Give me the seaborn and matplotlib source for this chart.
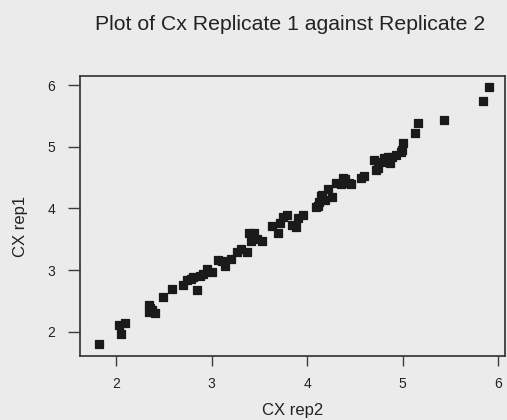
import matplotlib
matplotlib.use("Agg")
import matplotlib.pyplot as plt
import seaborn as sns
import pandas as pd

# Cx expression, replicate 2 (x) vs replicate 1 (y)
cx_rep2 = [1.82, 2.03, 2.09, 2.05, 2.34, 2.34, 2.38, 2.41, 2.36, 2.49,
           2.59, 2.70, 2.74, 2.78, 2.85, 2.81, 2.88, 2.91, 2.95, 3.00,
           3.07, 3.11, 3.14, 3.20, 3.27, 3.31, 3.37, 3.39, 3.44, 3.43,
           3.47, 3.53, 3.41, 3.63, 3.70, 3.72, 3.75, 3.79, 3.84, 3.88,
           3.90, 3.96, 4.09, 4.11, 4.12, 4.14, 4.16, 4.19, 4.22, 4.26,
           4.30, 4.35, 4.38, 4.40, 4.44, 4.46, 4.59, 4.56, 4.70, 4.72,
           4.74, 4.79, 4.80, 4.85, 4.87, 4.89, 4.93, 4.98, 4.99, 5.00,
           5.13, 5.16, 5.43, 5.84, 5.90]
cx_rep1 = [1.80, 2.12, 2.15, 1.97, 2.44, 2.32, 2.35, 2.31, 2.38, 2.56,
           2.69, 2.76, 2.84, 2.86, 2.68, 2.89, 2.90, 2.94, 3.02, 2.97,
           3.16, 3.15, 3.06, 3.18, 3.29, 3.34, 3.29, 3.61, 3.60, 3.52,
           3.50, 3.47, 3.47, 3.71, 3.61, 3.77, 3.86, 3.90, 3.74, 3.70,
           3.85, 3.89, 4.03, 4.04, 4.11, 4.20, 4.22, 4.14, 4.31, 4.19,
           4.42, 4.39, 4.50, 4.48, 4.42, 4.40, 4.52, 4.50, 4.79, 4.63,
           4.66, 4.76, 4.82, 4.84, 4.74, 4.84, 4.87, 4.92, 4.95, 5.06,
           5.23, 5.39, 5.43, 5.74, 5.97]
x_ticks = [2, 3, 4, 5, 6]
y_ticks = [2, 3, 4, 5, 6]

df = pd.DataFrame({"CX rep2": cx_rep2, "CX rep1": cx_rep1})

sns.set_style("ticks")
plt.rcParams["font.family"] = ["Liberation Sans", "DejaVu Sans"]

bg = "#ebebeb"
ink = "#1a1a1a"
frame = "#3c3c3c"

fig = plt.figure(figsize=(5.07, 4.20), dpi=100, facecolor=bg)
ax = fig.add_axes([80 / 507, 64 / 420, 425 / 507, 280 / 420])
ax.set_facecolor(bg)

sns.scatterplot(data=df, x="CX rep2", y="CX rep1", ax=ax, marker="s",
                s=34, color=ink, edgecolor=ink, linewidth=0.9)

ax.set_xlim(1.623, 6.07)
ax.set_ylim(1.61, 6.146)
ax.set_xticks(x_ticks)
ax.set_yticks(y_ticks)
ax.set_xticklabels([str(t) for t in x_ticks])
ax.set_yticklabels([str(t) for t in y_ticks])

for sp in ax.spines.values():
    sp.set_visible(True)
    sp.set_color(frame)
    sp.set_linewidth(1.3)

ax.tick_params(axis="x", direction="out", length=7, width=1.0, color=frame,
               pad=8, labelsize=10, labelcolor="#222222")
ax.tick_params(axis="y", direction="out", length=9, width=1.0, color=frame,
               pad=9, labelsize=10, labelcolor="#222222")

ax.set_xlabel("CX rep2", fontsize=12, color="#222222")
ax.set_ylabel("CX rep1", fontsize=12, color="#222222")
ax.xaxis.label.set_va("center")
ax.yaxis.label.set_va("center")
ax.xaxis.set_label_coords((293 - 80) / 425, (356 - 410) / 280)
ax.yaxis.set_label_coords((20 - 80) / 425, (356 - 226) / 280)

fig.text(290 / 507, 1 - 25 / 420, "Plot of Cx Replicate 1 against Replicate 2",
         ha="center", va="center", fontsize=15.3, color="#222222")

fig.savefig("out.png", dpi=100, facecolor=bg)
